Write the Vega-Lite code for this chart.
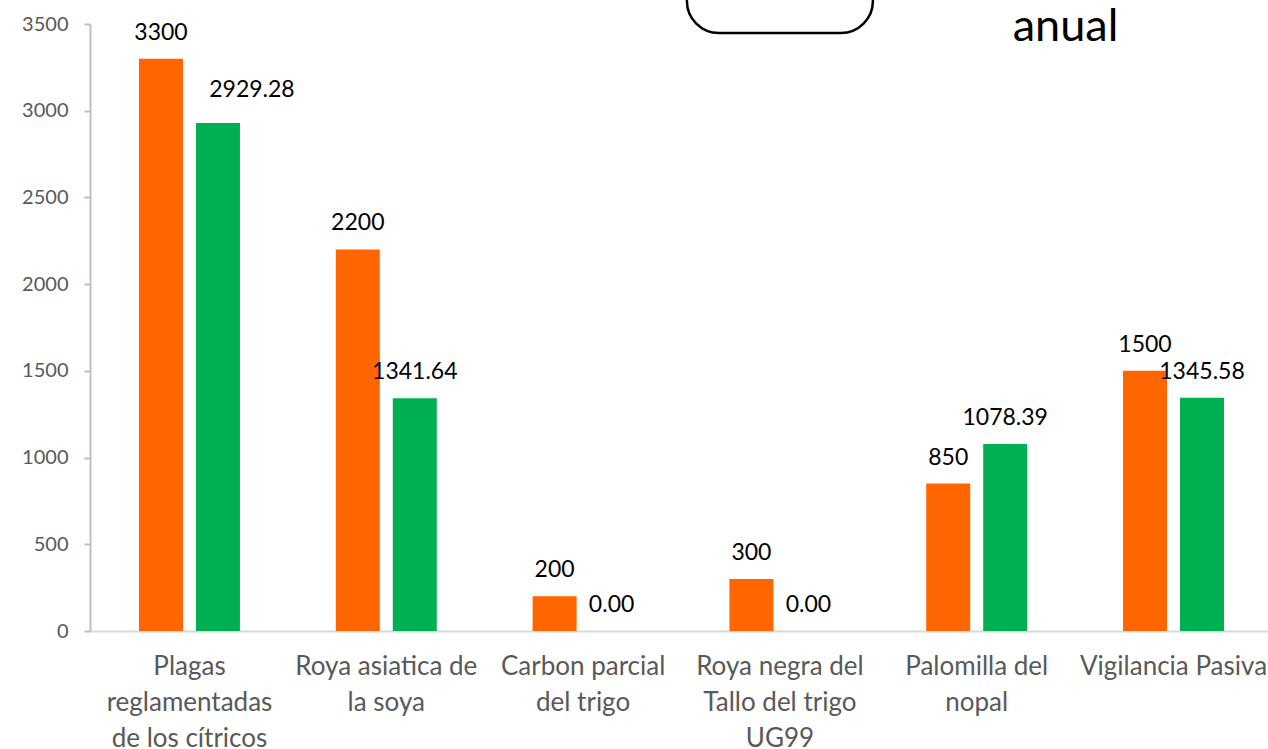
{
  "$schema": "https://vega.github.io/schema/vega-lite/v6.json",
  "width": 1178,
  "height": 607,
  "autosize": {"type": "none"},
  "padding": {"left": 90, "top": 24, "right": 0, "bottom": 118},
  "background": "white",
  "config": {"view": {"stroke": null}, "font": "Lato"},
  "datasets": {
    "main": [
      {"cat": "Plagas reglamentadas de los cítricos", "serie": "Programado", "value": 3300},
      {"cat": "Plagas reglamentadas de los cítricos", "serie": "Realizado", "value": 2929.28},
      {"cat": "Roya asiatica de la soya", "serie": "Programado", "value": 2200},
      {"cat": "Roya asiatica de la soya", "serie": "Realizado", "value": 1341.64},
      {"cat": "Carbon parcial del trigo", "serie": "Programado", "value": 200},
      {"cat": "Carbon parcial del trigo", "serie": "Realizado", "value": 0},
      {"cat": "Roya negra del Tallo del trigo UG99", "serie": "Programado", "value": 300},
      {"cat": "Roya negra del Tallo del trigo UG99", "serie": "Realizado", "value": 0},
      {"cat": "Palomilla del nopal", "serie": "Programado", "value": 850},
      {"cat": "Palomilla del nopal", "serie": "Realizado", "value": 1078.39},
      {"cat": "Vigilancia Pasiva", "serie": "Programado", "value": 1500},
      {"cat": "Vigilancia Pasiva", "serie": "Realizado", "value": 1345.58}
    ],
    "box": [{"cat": "Roya negra del Tallo del trigo UG99", "top": 4000, "bottom": 3448}],
    "note": [{"cat": "Vigilancia Pasiva", "pos": 3400, "txt": "anual"}]
  },
  "layer": [
    {
      "data": {"name": "main"},
      "mark": {"type": "bar"},
      "encoding": {
        "x": {
          "field": "cat",
          "type": "nominal",
          "sort": null,
          "scale": {"paddingInner": 0.487, "paddingOuter": 0.249, "range": [0, 1183]},
          "axis": {
            "title": null,
            "labelAngle": 0,
            "ticks": false,
            "domainColor": "#D9D9D9",
            "domainWidth": 2,
            "labelColor": "#595959",
            "labelFontSize": 26,
            "labelFont": "Lato",
            "labelLimit": 400,
            "labelPadding": 22,
            "labelLineHeight": 36,
            "labelBaseline": "top",
            "labelExpr": "datum.value == 'Plagas reglamentadas de los cítricos' ? ['Plagas','reglamentadas','de los cítricos'] : datum.value == 'Roya asiatica de la soya' ? ['Roya asiatica de','la soya'] : datum.value == 'Carbon parcial del trigo' ? ['Carbon parcial','del trigo'] : datum.value == 'Roya negra del Tallo del trigo UG99' ? ['Roya negra del','Tallo del trigo','UG99'] : datum.value == 'Palomilla del nopal' ? ['Palomilla del','nopal'] : datum.value"
          }
        },
        "y": {
          "field": "value",
          "type": "quantitative",
          "scale": {"domain": [0, 3500], "nice": false},
          "axis": {
            "title": null,
            "values": [0, 500, 1000, 1500, 2000, 2500, 3000, 3500],
            "format": "d",
            "grid": false,
            "domainColor": "#BFBFBF",
            "domainWidth": 2,
            "tickColor": "#BFBFBF",
            "tickSize": 6,
            "tickWidth": 2,
            "labelColor": "#595959",
            "labelFontSize": 20,
            "labelFont": "Lato",
            "labelPadding": 16
          }
        },
        "xOffset": {"field": "serie", "type": "nominal", "sort": ["Programado", "Realizado"], "scale": {"paddingInner": 0.228, "paddingOuter": 0}},
        "color": {"field": "serie", "type": "nominal", "scale": {"domain": ["Programado", "Realizado"], "range": ["#FF6600", "#00B050"]}, "legend": null}
      }
    },
    {
      "data": {"name": "main"},
      "transform": [{"filter": "datum.serie == 'Programado'"}],
      "mark": {"type": "text", "baseline": "middle", "dy": -26, "fontSize": 23, "color": "black", "font": "Lato"},
      "encoding": {
        "x": {"field": "cat", "type": "nominal", "sort": null},
        "y": {"field": "value", "type": "quantitative"},
        "xOffset": {"field": "serie", "type": "nominal", "sort": ["Programado", "Realizado"]},
        "text": {"field": "value", "type": "quantitative", "format": "d"}
      }
    },
    {
      "data": {"name": "main"},
      "transform": [{"filter": "datum.serie == 'Realizado' && datum.value != 2929.28"}],
      "mark": {"type": "text", "baseline": "middle", "dy": -26, "fontSize": 23, "color": "black", "font": "Lato"},
      "encoding": {
        "x": {"field": "cat", "type": "nominal", "sort": null},
        "y": {"field": "value", "type": "quantitative"},
        "xOffset": {"field": "serie", "type": "nominal", "sort": ["Programado", "Realizado"]},
        "text": {"field": "value", "type": "quantitative", "format": ".2f"}
      }
    },
    {
      "data": {"name": "main"},
      "transform": [{"filter": "datum.value == 2929.28"}],
      "mark": {"type": "text", "baseline": "middle", "dx": 34, "dy": -33, "fontSize": 23, "color": "black", "font": "Lato"},
      "encoding": {
        "x": {"field": "cat", "type": "nominal", "sort": null},
        "y": {"field": "value", "type": "quantitative"},
        "xOffset": {"field": "serie", "type": "nominal", "sort": ["Programado", "Realizado"]},
        "text": {"field": "value", "type": "quantitative", "format": ".2f"}
      }
    },
    {
      "data": {"name": "box"},
      "mark": {"type": "bar", "width": 186, "fill": "white", "stroke": "black", "strokeWidth": 2.5, "cornerRadius": 32},
      "encoding": {
        "x": {"field": "cat", "type": "nominal", "sort": null},
        "y": {"field": "top", "type": "quantitative"},
        "y2": {"field": "bottom"}
      }
    },
    {
      "data": {"name": "note"},
      "mark": {"type": "text", "align": "center", "baseline": "alphabetic", "dx": -108, "fontSize": 45, "color": "black", "font": "Lato"},
      "encoding": {
        "x": {"field": "cat", "type": "nominal", "sort": null},
        "y": {"field": "pos", "type": "quantitative"},
        "text": {"field": "txt", "type": "nominal"}
      }
    }
  ]
}
